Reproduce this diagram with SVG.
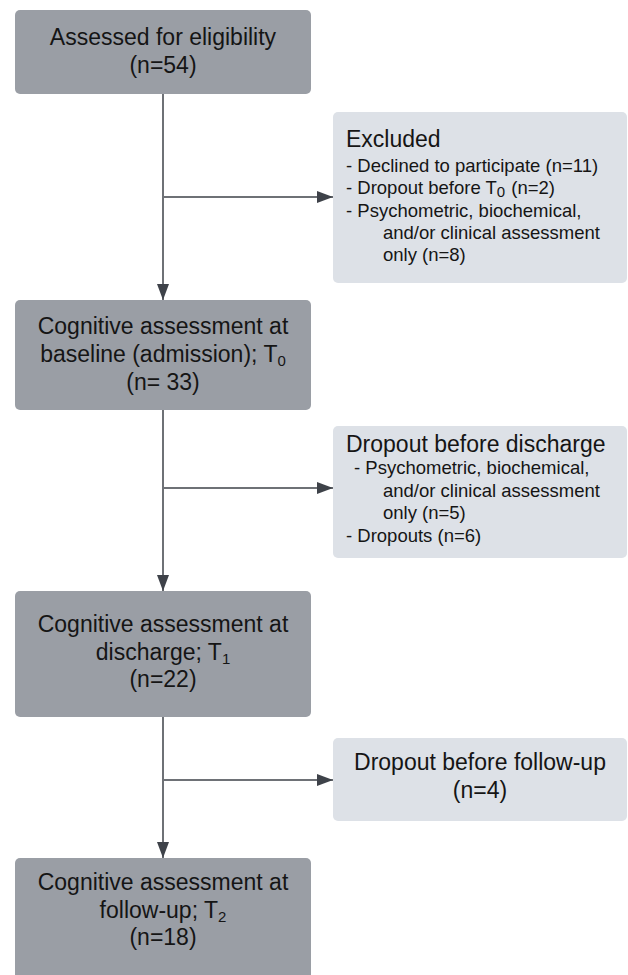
<svg xmlns="http://www.w3.org/2000/svg" width="628" height="975" viewBox="0 0 628 975">
<style>
.dark{fill:#9a9ea5}
.light{fill:#dde1e7}
text{font-family:"Liberation Sans",Arial,sans-serif;fill:#151515}
.c{text-anchor:middle;font-size:23px}
.h{font-size:23px}
.i{font-size:18.5px}
.sub{font-size:15px}
.ln{stroke:#6e7176;stroke-width:2;fill:none}
</style>
<defs>
<marker id="ah" viewBox="0 0 16 12" refX="16" refY="6" markerWidth="16" markerHeight="12" markerUnits="userSpaceOnUse" orient="auto">
<path d="M0,0 L16,6 L0,12 Z" fill="#3e4249"/>
</marker>
</defs>
<g id="connectors">
<line class="ln" x1="163" y1="94" x2="163" y2="300" marker-end="url(#ah)"/>
<line class="ln" x1="163" y1="197" x2="333" y2="197" marker-end="url(#ah)"/>
<line class="ln" x1="163" y1="410" x2="163" y2="591" marker-end="url(#ah)"/>
<line class="ln" x1="163" y1="488" x2="333" y2="488" marker-end="url(#ah)"/>
<line class="ln" x1="163" y1="717" x2="163" y2="858" marker-end="url(#ah)"/>
<line class="ln" x1="163" y1="780" x2="333" y2="780" marker-end="url(#ah)"/>
</g>
<g id="assessed">
<rect class="dark" x="15" y="10" width="296" height="84" rx="5"/>
<text class="c" x="163" y="45">Assessed for eligibility</text>
<text class="c" x="163" y="73">(n=54)</text>
</g>
<g id="excluded">
<rect class="light" x="333" y="112" width="294" height="171" rx="5"/>
<text class="h" x="346" y="147">Excluded</text>
<text class="i" x="346" y="172">- Declined to participate (n=11)</text>
<text class="i" x="346" y="194">- Dropout before T<tspan class="sub" dy="3">0</tspan><tspan dx="1" dy="-3"> (n=2)</tspan></text>
<text class="i" x="346" y="217">- Psychometric, biochemical,</text>
<text class="i" x="383" y="239">and/or clinical assessment</text>
<text class="i" x="383" y="261">only (n=8)</text>
</g>
<g id="baseline">
<rect class="dark" x="15" y="300" width="296" height="110" rx="5"/>
<text class="c" x="163" y="334">Cognitive assessment at</text>
<text class="c" x="163" y="362">baseline (admission); T<tspan class="sub" dy="4">0</tspan></text>
<text class="c" x="163" y="390">(n= 33)</text>
</g>
<g id="dropout-discharge">
<rect class="light" x="333" y="426" width="294" height="132" rx="5"/>
<text class="h" x="346" y="452">Dropout before discharge</text>
<text class="i" x="354" y="474">- Psychometric, biochemical,</text>
<text class="i" x="383" y="497">and/or clinical assessment</text>
<text class="i" x="383" y="519">only (n=5)</text>
<text class="i" x="346" y="542">- Dropouts (n=6)</text>
</g>
<g id="discharge">
<rect class="dark" x="15" y="591" width="296" height="126" rx="5"/>
<text class="c" x="163" y="632">Cognitive assessment at</text>
<text class="c" x="163" y="660">discharge; T<tspan class="sub" dy="4">1</tspan></text>
<text class="c" x="163" y="687">(n=22)</text>
</g>
<g id="dropout-followup">
<rect class="light" x="333" y="738" width="294" height="83" rx="5"/>
<text class="c" x="480" y="770">Dropout before follow-up</text>
<text class="c" x="480" y="798">(n=4)</text>
</g>
<g id="followup">
<rect class="dark" x="15" y="858" width="296" height="130" rx="5"/>
<text class="c" x="163" y="890">Cognitive assessment at</text>
<text class="c" x="163" y="918">follow-up; T<tspan class="sub" dy="4">2</tspan></text>
<text class="c" x="163" y="945">(n=18)</text>
</g>
</svg>
